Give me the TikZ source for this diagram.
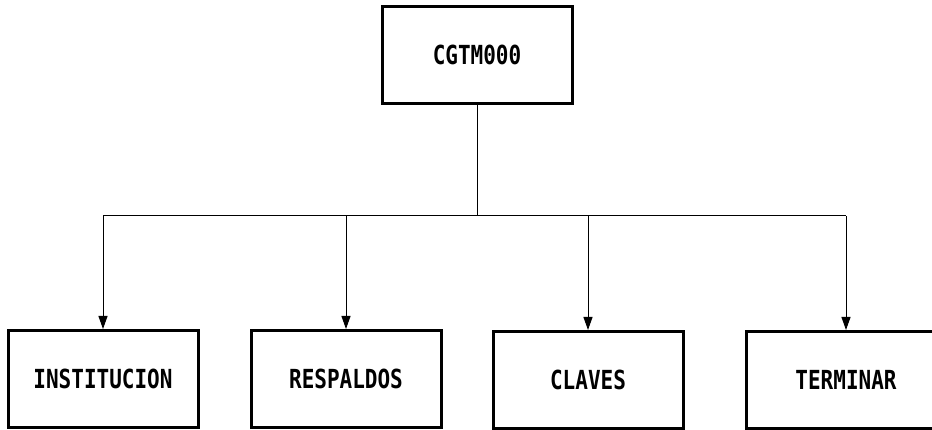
\documentclass[tikz,border=0pt]{standalone}
\usepackage{fontspec}
\newfontfamily\menufont{DejaVu Sans Mono}
\usepackage{tikz}
\usetikzlibrary{arrows.meta,positioning,calc}

\begin{document}
\begin{tikzpicture}[x=1pt,y=-1pt,
    menubox/.style={draw,line width=3pt,minimum width=190pt,minimum height=97pt,
      font=\menufont\bfseries\fontsize{21}{25}\selectfont},
    link/.style={line width=1pt},
    linkarrow/.style={line width=1pt,-{Triangle[length=13pt,width=9pt]}}]
    \useasboundingbox (0,0) rectangle (932,430);
    \clip (0,0) rectangle (932,430);
    \node[menubox] (main) at (477,55) {\scalebox{1}[1.25]{CGTM000}};
    \node[menubox] (inst) at (103,379) {\scalebox{1}[1.25]{INSTITUCION}};
    \node[menubox] (resp) at (346,379) {\scalebox{1}[1.25]{RESPALDOS}};
    \node[menubox] (claves) at (588,380) {\scalebox{1}[1.25]{CLAVES}};
    \node[menubox,minimum width=200pt] (term) at (846,380) {\scalebox{1}[1.25]{TERMINAR}};
    \coordinate (bus) at (main.south |- 0,216);
    \draw[link] (main.south) -- (bus);
    \draw[link] (bus -| inst.north) -- (bus -| term.north);
    \foreach \n in {inst,resp,claves,term}
      \draw[linkarrow] (bus -| \n.north) -- (\n.north);
  \end{tikzpicture}
\end{document}
